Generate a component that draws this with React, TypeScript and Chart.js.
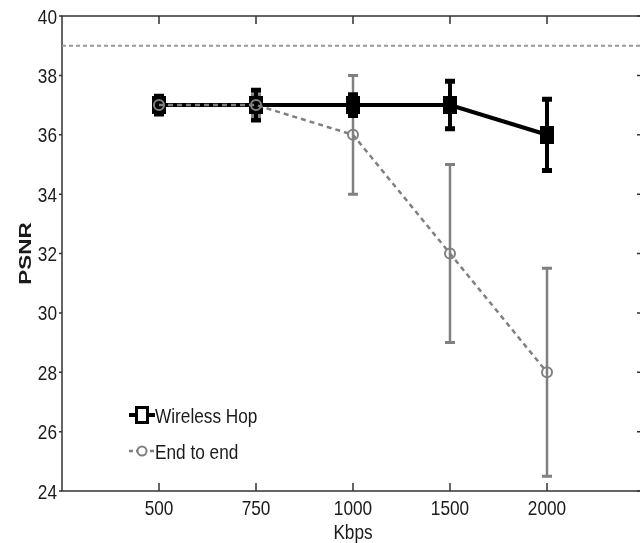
import React, { useEffect, useRef } from 'react';
import { Chart, registerables } from 'chart.js';

Chart.register(...registerables);

// ---- data ----
const categories = ['500', '750', '1000', '1500', '2000'];
const wirelessHop = [37, 37, 37, 37, 36];
const wirelessHopErr = [0.3, 0.5, 0.35, 0.8, 1.2];
const endToEnd = [37, 37, 36, 32, 28];
const endToEndErr = [0.25, 0.35, 2, 3, 3.5];
const referenceX = [0, 6];
const referenceLevel = [39, 39];
const yTicks = [24, 26, 28, 30, 32, 34, 36, 38, 40];
const xLabel = 'Kbps';
const yLabel = 'PSNR';
const legendLabels = ['Wireless Hop', 'End to end'];

const FONT = "'Liberation Sans', Arial, sans-serif";
const TEXT_SIZE = 21;
const NARROW = 0.82;
const TEXT_COLOR = '#1a1a1a';
const GRAY = '#808080';
const REF_GRAY = '#999999';

function makeRectMarker(fill: string): HTMLCanvasElement {
  const c = document.createElement('canvas');
  c.width = 14;
  c.height = 18;
  const ctx = c.getContext('2d')!;
  ctx.fillStyle = fill;
  ctx.fillRect(1.5, 1.5, 11, 15);
  ctx.strokeStyle = '#000000';
  ctx.lineWidth = 3;
  ctx.strokeRect(1.5, 1.5, 11, 15);
  return c;
}

function drawText(
  ctx: CanvasRenderingContext2D,
  text: string,
  x: number,
  y: number,
  align: CanvasTextAlign,
  font: string,
  sx: number,
  rotate = 0,
) {
  ctx.save();
  ctx.translate(x, y);
  if (rotate) ctx.rotate(rotate);
  ctx.scale(sx, 1);
  ctx.font = font;
  ctx.fillStyle = TEXT_COLOR;
  ctx.textAlign = align;
  ctx.textBaseline = 'alphabetic';
  ctx.fillText(text, 0, 0);
  ctx.restore();
}

function drawErrorBars(chart: any, dsIndex: number, errs: number[], color: string, width: number, capW: number, capLine: number) {
  const meta = chart.getDatasetMeta(dsIndex);
  const ys = chart.scales.y;
  const vals = chart.data.datasets[dsIndex].data as any[];
  const ctx = chart.ctx;
  ctx.save();
  ctx.strokeStyle = color;
  ctx.setLineDash([]);
  meta.data.forEach((pt: any, j: number) => {
    const v = vals[j].y;
    const e = errs[j];
    const x = pt.x;
    const yTop = ys.getPixelForValue(v + e);
    const yBot = ys.getPixelForValue(v - e);
    ctx.lineWidth = width;
    ctx.beginPath();
    ctx.moveTo(x, yTop);
    ctx.lineTo(x, yBot);
    ctx.stroke();
    ctx.lineWidth = capLine;
    ctx.beginPath();
    ctx.moveTo(x - capW / 2, yTop);
    ctx.lineTo(x + capW / 2, yTop);
    ctx.moveTo(x - capW / 2, yBot);
    ctx.lineTo(x + capW / 2, yBot);
    ctx.stroke();
  });
  ctx.restore();
}

const framePlugin = {
  id: 'frame',
  beforeDatasetsDraw(chart: any) {
    const { ctx, chartArea: a, scales } = chart;
    ctx.save();
    ctx.strokeStyle = '#333333';
    ctx.lineWidth = 1.5;
    ctx.strokeRect(a.left, a.top, a.right - a.left, a.bottom - a.top);
    ctx.beginPath();
    categories.forEach((_, i) => {
      const x = scales.x.getPixelForValue(i + 1);
      ctx.moveTo(x, a.bottom);
      ctx.lineTo(x, a.bottom - 8);
      ctx.moveTo(x, a.top);
      ctx.lineTo(x, a.top + 8);
    });
    yTicks.forEach((t) => {
      const y = scales.y.getPixelForValue(t);
      ctx.moveTo(a.left - 3, y);
      ctx.lineTo(a.left, y);
      ctx.moveTo(a.right, y);
      ctx.lineTo(a.right - 7, y);
    });
    ctx.stroke();
    ctx.restore();
  },
  afterDraw(chart: any) {
    const { ctx, chartArea: a, scales } = chart;
    const font = `${TEXT_SIZE}px ${FONT}`;
    // x tick labels
    categories.forEach((c, i) => {
      const x = scales.x.getPixelForValue(i + 1);
      drawText(ctx, c, x, a.bottom + 24, 'center', font, NARROW);
    });
    // y tick labels
    yTicks.forEach((t) => {
      const y = scales.y.getPixelForValue(t);
      drawText(ctx, String(t), a.left - 5, y + 7.5, 'right', font, NARROW);
    });
    // axis titles
    drawText(ctx, xLabel, (a.left + a.right) / 2, a.bottom + 48, 'center', font, NARROW);
    drawText(
      ctx,
      yLabel,
      31,
      (a.top + a.bottom) / 2,
      'center',
      `bold 17px ${FONT}`,
      1.32,
      -Math.PI / 2,
    );
  },
};

const errorBarPlugin = {
  id: 'errorBars',
  beforeDatasetsDraw(chart: any) {
    drawErrorBars(chart, 1, endToEndErr, GRAY, 2.5, 10, 3);
  },
  afterDatasetDraw(chart: any, args: any) {
    if (args.index === 0) {
      drawErrorBars(chart, 0, wirelessHopErr, '#000000', 4, 10, 5);
    }
  },
};

const legendPlugin = {
  id: 'customLegend',
  afterDraw(chart: any) {
    const { ctx, chartArea: a } = chart;
    const x0 = a.left + 67;
    const x1 = a.left + 93;
    const xm = (x0 + x1) / 2;
    const rows = [a.top + 399, a.top + 435];
    ctx.save();
    // Wireless Hop
    ctx.strokeStyle = '#000';
    ctx.lineWidth = 4;
    ctx.setLineDash([]);
    ctx.beginPath();
    ctx.moveTo(x0, rows[0]);
    ctx.lineTo(x1, rows[0]);
    ctx.stroke();
    const marker = makeRectMarker('#ffffff');
    ctx.drawImage(marker, xm - marker.width / 2, rows[0] - marker.height / 2);
    // End to end
    ctx.strokeStyle = GRAY;
    ctx.lineWidth = 2.5;
    ctx.setLineDash([4, 3]);
    ctx.beginPath();
    ctx.moveTo(x0, rows[1]);
    ctx.lineTo(x1, rows[1]);
    ctx.stroke();
    ctx.setLineDash([]);
    ctx.fillStyle = '#fff';
    ctx.lineWidth = 2;
    ctx.beginPath();
    ctx.arc(xm, rows[1], 4.5, 0, Math.PI * 2);
    ctx.fill();
    ctx.stroke();
    ctx.restore();
    const font = `${TEXT_SIZE}px ${FONT}`;
    drawText(ctx, legendLabels[0], x1, rows[0] + 8, 'left', font, NARROW);
    drawText(ctx, legendLabels[1], x1, rows[1] + 8, 'left', font, NARROW);
  },
};

export default function App() {
  const canvasRef = useRef<HTMLCanvasElement | null>(null);

  useEffect(() => {
    const canvas = canvasRef.current;
    if (!canvas) return;
    const rectMarker = makeRectMarker('#000000');
    const chart = new Chart(canvas, {
      type: 'line',
      data: {
        datasets: [
          {
            label: legendLabels[0],
            data: wirelessHop.map((v, i) => ({ x: i + 1, y: v })),
            borderColor: '#000000',
            borderWidth: 4,
            pointStyle: rectMarker as any,
            pointRadius: 7,
            order: 2,
            fill: false,
            tension: 0,
          },
          {
            label: legendLabels[1],
            data: endToEnd.map((v, i) => ({ x: i + 1, y: v })),
            borderColor: GRAY,
            borderWidth: 2.5,
            borderDash: [5, 4],
            pointStyle: 'circle',
            pointRadius: 5,
            pointBorderWidth: 2,
            pointBorderColor: GRAY,
            pointBackgroundColor: 'rgba(255,255,255,0)',
            order: 1,
            fill: false,
            tension: 0,
          },
          {
            label: 'reference',
            data: referenceX.map((x, i) => ({ x, y: referenceLevel[i] })),
            borderColor: REF_GRAY,
            borderWidth: 2,
            borderDash: [4, 3],
            pointRadius: 0,
            order: 3,
            fill: false,
          },
        ],
      },
      options: {
        animation: false,
        responsive: false,
        events: [],
        layout: { padding: { top: 16, right: 56, left: 0, bottom: 0 } },
        plugins: {
          legend: { display: false },
          tooltip: { enabled: false },
          title: { display: false },
        },
        scales: {
          x: {
            type: 'linear',
            min: 0,
            max: 6,
            position: 'bottom',
            grid: { display: false, drawTicks: false },
            border: { display: false },
            afterBuildTicks: (scale: any) => {
              scale.ticks = categories.map((_, i) => ({ value: i + 1 }));
            },
            afterFit: (scale: any) => {
              scale.height = 52;
            },
            ticks: { display: false },
            title: { display: false },
          },
          y: {
            type: 'linear',
            min: 24,
            max: 40,
            position: 'left',
            grid: { display: false, drawTicks: false },
            border: { display: false },
            afterBuildTicks: (scale: any) => {
              scale.ticks = yTicks.map((t) => ({ value: t }));
            },
            afterFit: (scale: any) => {
              scale.width = 62;
            },
            ticks: { display: false },
            title: { display: false },
          },
        },
      },
      plugins: [framePlugin, errorBarPlugin, legendPlugin],
    });
    return () => chart.destroy();
  }, []);

  return (
    <div
      style={{
        position: 'fixed',
        left: 0,
        top: 0,
        width: 640,
        height: 543,
        overflow: 'hidden',
        background: '#fff',
      }}
    >
      <canvas ref={canvasRef} width={700} height={543} style={{ display: 'block' }} />
    </div>
  );
}
